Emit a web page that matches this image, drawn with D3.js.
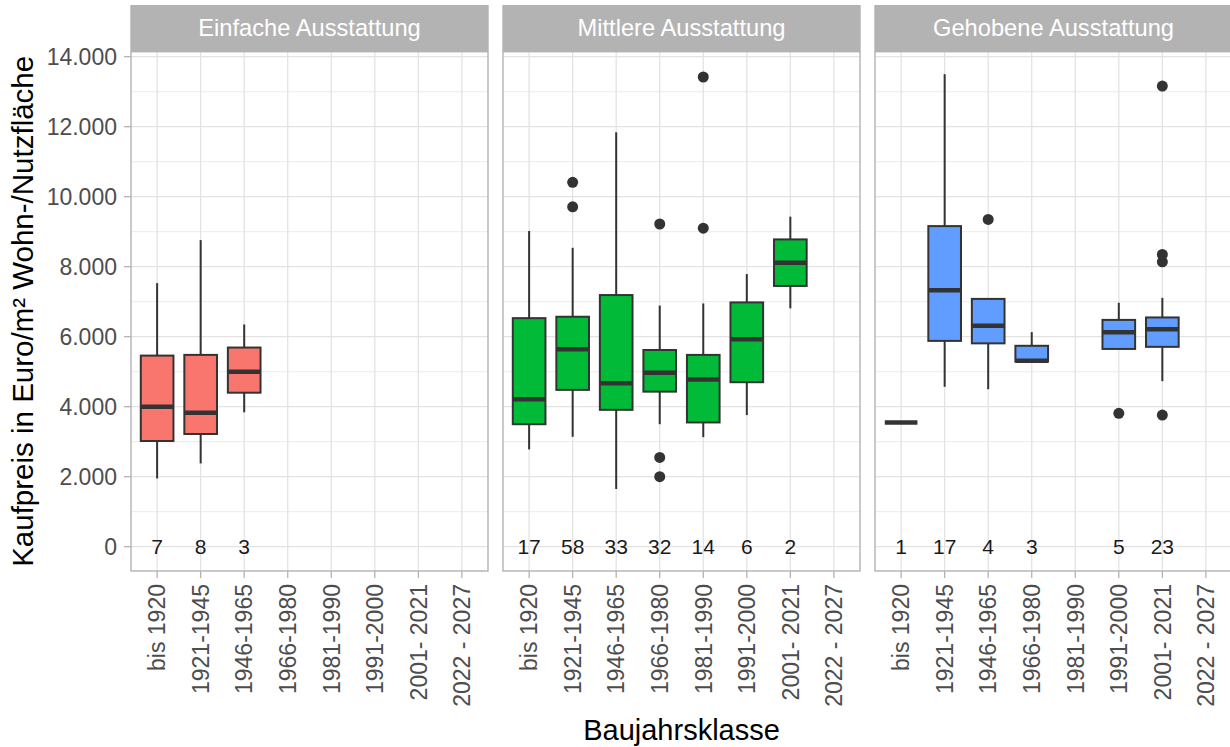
<!DOCTYPE html>
<html>
<head>
<meta charset="utf-8">
<script src="https://cdn.jsdelivr.net/npm/d3@7"></script>
<style>
  html, body { margin: 0; padding: 0; background: #ffffff; }
  svg { display: block; font-family: "Liberation Sans", Arial, sans-serif; }
</style>
</head>
<body>
<svg id="chart" width="1230" height="747"></svg>
<script>
// ---- data ----
const panels = ["Einfache Ausstattung", "Mittlere Ausstattung", "Gehobene Ausstattung"];
const categories = ["bis 1920", "1921-1945", "1946-1965", "1966-1980", "1981-1990", "1991-2000", "2001- 2021", "2022 - 2027"];
const yTickValues = [0, 2000, 4000, 6000, 8000, 10000, 12000, 14000];
const yTickLabels = ["0", "2.000", "4.000", "6.000", "8.000", "10.000", "12.000", "14.000"];
const panelFills = ["#F8766D", "#00BA38", "#619CFF"];

// [category, lowerWhisker, q1, median, q3, upperWhisker, outliers, n]
const einfacheBoxes = [
  ["bis 1920",   1950, 3020, 4000, 5460, 7530, [], 7],
  ["1921-1945",  2380, 3220, 3830, 5480, 8760, [], 8],
  ["1946-1965",  3840, 4400, 5000, 5690, 6350, [], 3]
];
const mittlereBoxes = [
  ["bis 1920",   2780, 3500, 4210, 6530, 9020, [], 17],
  ["1921-1945",  3140, 4480, 5640, 6570, 8540, [10410, 9710], 58],
  ["1946-1965",  1650, 3910, 4670, 7190, 11840, [], 33],
  ["1966-1980",  3500, 4430, 4970, 5620, 6890, [9220, 2550, 2000], 32],
  ["1981-1990",  3130, 3550, 4780, 5480, 6950, [13420, 9100], 14],
  ["1991-2000",  3760, 4700, 5930, 6980, 7790, [], 6],
  ["2001- 2021", 6810, 7450, 8110, 8780, 9430, [], 2]
];
const gehobeneBoxes = [
  ["bis 1920",   3550, 3550, 3550, 3550, 3550, [], 1],
  ["1921-1945",  4570, 5880, 7330, 9160, 13500, [], 17],
  ["1946-1965",  4500, 5810, 6310, 7080, 7080, [9350], 4],
  ["1966-1980",  5290, 5290, 5310, 5740, 6130, [], 3],
  ["1991-2000",  5650, 5650, 6130, 6480, 6970, [3810], 5],
  ["2001- 2021", 4730, 5710, 6210, 6550, 7110, [13160, 8350, 8140, 3760], 23]
];
const panelBoxes = [einfacheBoxes, mittlereBoxes, gehobeneBoxes];

const yTitle = "Kaufpreis in Euro/m² Wohn-/Nutzfläche";
const xTitle = "Baujahrsklasse";

// accessors
const cat = d => d[0], lo = d => d[1], q1 = d => d[2], med = d => d[3],
      q3 = d => d[4], hi = d => d[5], outs = d => d[6], cnt = d => d[7];

// ---- layout ----
const svg = d3.select("#chart");
const panelLeft = [131, 503, 875];
const panelWidth = 357;
const panelTop = 51.7, panelBottom = 571;
const stripTop = 5;

const y = d3.scaleLinear().domain([0, 14000]).range([546.7, 56.7]);
const minorTicks = d3.range(1000, 14001, 2000);

const gridCol = "#E3E3E3";
const borderCol = "#B3B3B3";
const textCol = "#4D4D4D";
const boxStroke = "#333333";

panels.forEach((name, pi) => {
  const x0 = panelLeft[pi];
  const x = d3.scalePoint().domain(categories).range([x0, x0 + panelWidth]).padding(0.6);
  const bw = x.step() * 0.75;
  const g = svg.append("g");

  g.append("rect").attr("x", x0).attr("y", panelTop).attr("width", panelWidth)
    .attr("height", panelBottom - panelTop).attr("fill", "#fff");

  g.append("g").selectAll("line").data(minorTicks).join("line")
    .attr("x1", x0).attr("x2", x0 + panelWidth)
    .attr("y1", d => y(d)).attr("y2", d => y(d))
    .attr("stroke", gridCol).attr("stroke-width", 0.7);
  g.append("g").selectAll("line").data(yTickValues).join("line")
    .attr("x1", x0).attr("x2", x0 + panelWidth)
    .attr("y1", d => y(d)).attr("y2", d => y(d))
    .attr("stroke", gridCol).attr("stroke-width", 1.3);
  g.append("g").selectAll("line").data(categories).join("line")
    .attr("x1", d => x(d)).attr("x2", d => x(d))
    .attr("y1", panelTop).attr("y2", panelBottom)
    .attr("stroke", gridCol).attr("stroke-width", 1.3);

  const rows = panelBoxes[pi];
  const bg = g.append("g").selectAll("g").data(rows).join("g");
  // whiskers
  bg.append("line").attr("x1", d => x(cat(d))).attr("x2", d => x(cat(d)))
    .attr("y1", d => y(hi(d))).attr("y2", d => y(q3(d)))
    .attr("stroke", boxStroke).attr("stroke-width", 2);
  bg.append("line").attr("x1", d => x(cat(d))).attr("x2", d => x(cat(d)))
    .attr("y1", d => y(q1(d))).attr("y2", d => y(lo(d)))
    .attr("stroke", boxStroke).attr("stroke-width", 2);
  // box
  bg.append("rect")
    .attr("x", d => x(cat(d)) - bw / 2).attr("width", bw)
    .attr("y", d => y(q3(d)))
    .attr("height", d => Math.max(0, y(q1(d)) - y(q3(d))))
    .attr("fill", panelFills[pi])
    .attr("stroke", boxStroke).attr("stroke-width", 2);
  // median
  bg.append("line")
    .attr("x1", d => x(cat(d)) - bw / 2).attr("x2", d => x(cat(d)) + bw / 2)
    .attr("y1", d => y(med(d))).attr("y2", d => y(med(d)))
    .attr("stroke", boxStroke).attr("stroke-width", 4.5);
  // outliers
  bg.each(function(d) {
    d3.select(this).selectAll("circle").data(outs(d)).join("circle")
      .attr("cx", x(cat(d))).attr("cy", v => y(v)).attr("r", 5.5)
      .attr("fill", boxStroke);
  });
  // counts
  g.append("g").selectAll("text").data(rows).join("text")
    .attr("x", d => x(cat(d))).attr("y", y(0)).attr("dy", "0.36em")
    .attr("text-anchor", "middle").attr("font-size", 21).attr("fill", "#1A1A1A")
    .text(d => cnt(d));

  // border
  g.append("rect").attr("x", x0).attr("y", panelTop).attr("width", panelWidth)
    .attr("height", panelBottom - panelTop).attr("fill", "none")
    .attr("stroke", borderCol).attr("stroke-width", 1.4);

  // strip
  g.append("rect").attr("x", x0 - 0.7).attr("y", stripTop).attr("width", panelWidth + 1.4)
    .attr("height", panelTop - stripTop).attr("fill", "#B3B3B3");
  g.append("text").attr("x", x0 + panelWidth / 2).attr("y", 36)
    .attr("text-anchor", "middle").attr("font-size", 23.7).attr("fill", "#fff")
    .text(name);

  // x axis ticks + labels
  g.append("g").selectAll("line").data(categories).join("line")
    .attr("x1", d => x(d)).attr("x2", d => x(d))
    .attr("y1", panelBottom).attr("y2", panelBottom + 7)
    .attr("stroke", borderCol).attr("stroke-width", 1.3);
  g.append("g").selectAll("text").data(categories).join("text")
    .attr("transform", d => `translate(${x(d)},${panelBottom + 13}) rotate(-90)`)
    .attr("dy", "0.36em").attr("text-anchor", "end")
    .attr("font-size", 23).attr("fill", textCol)
    .text(d => d);
});

// y axis (left panel only)
const ya = svg.append("g");
ya.selectAll("line").data(yTickValues).join("line")
  .attr("x1", panelLeft[0] - 7).attr("x2", panelLeft[0])
  .attr("y1", d => y(d)).attr("y2", d => y(d))
  .attr("stroke", borderCol).attr("stroke-width", 1.3);
ya.selectAll("text").data(yTickValues).join("text")
  .attr("x", panelLeft[0] - 14).attr("y", d => y(d)).attr("dy", "0.36em")
  .attr("text-anchor", "end").attr("font-size", 23).attr("fill", textCol)
  .text((d, i) => yTickLabels[i]);

// titles
svg.append("text")
  .attr("transform", `translate(33,${(panelTop + panelBottom) / 2}) rotate(-90)`)
  .attr("text-anchor", "middle").attr("font-size", 29.5).attr("fill", "#000")
  .text(yTitle);
svg.append("text")
  .attr("x", (panelLeft[0] + panelLeft[2] + panelWidth) / 2).attr("y", 740)
  .attr("text-anchor", "middle").attr("font-size", 29).attr("fill", "#000")
  .text(xTitle);
</script>
</body>
</html>
